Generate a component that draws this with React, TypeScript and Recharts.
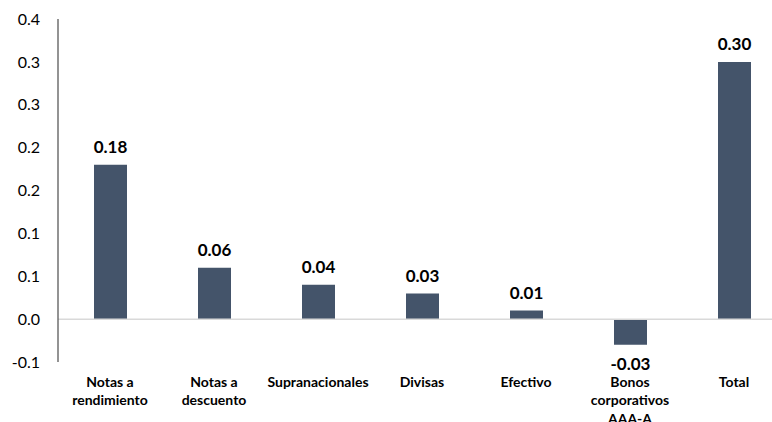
import { Bar, BarChart, Cell, LabelList, ReferenceLine, XAxis, YAxis } from 'recharts';

const BAR_COLOR = '#44546a';
const AXIS_COLOR = '#595959';
const ZERO_LINE_COLOR = '#d9d9d9';
const TEXT_COLOR = '#000000';
const FONT = 'Lato, "Liberation Sans", sans-serif';

// categorías del eje X (\n = salto de línea en la etiqueta)
const CATEGORIES = [
  'Notas a\nrendimiento',
  'Notas a\ndescuento',
  'Supranacionales',
  'Divisas',
  'Efectivo',
  'Bonos\ncorporativos\nAAA-A',
  'Total',
];
const VALUES = [0.18, 0.06, 0.04, 0.03, 0.01, -0.03, 0.3];

// el eje va de 0.05 en 0.05 pero las etiquetas se muestran con un decimal
const Y_TICKS = [-0.05, 0, 0.05, 0.1, 0.15, 0.2, 0.25, 0.3, 0.35];
const Y_TICK_LABELS = ['-0.1', '0.0', '0.1', '0.1', '0.2', '0.2', '0.3', '0.3', '0.4'];

const data = CATEGORIES.map((name, i) => ({ name, value: VALUES[i] }));

function CategoryTick({ x, y, payload }: any) {
  const lines = String(payload.value).split('\n');
  return (
    <text x={x} y={y + 25} textAnchor="middle" fontFamily={FONT} fontSize={14} fontWeight={700} fill={TEXT_COLOR}>
      {lines.map((line, i) => (
        <tspan key={i} x={x} dy={i === 0 ? 0 : 18.3}>
          {line}
        </tspan>
      ))}
    </text>
  );
}

function ValueLabel(props: any) {
  const box = props.viewBox ?? props;
  const { x, y, width, height } = box;
  const value = Number(props.value);
  const top = Math.min(y, y + height);
  const bottom = Math.max(y, y + height);
  const ty = value >= 0 ? top - 11.5 : bottom + 25;
  return (
    <text x={x + width / 2} y={ty} textAnchor="middle" fontFamily={FONT} fontSize={17} fontWeight={700} fill={TEXT_COLOR}>
      {value.toFixed(2)}
    </text>
  );
}

export default function App() {
  return (
    <div style={{ position: 'absolute', left: 0, top: 0, width: 772, height: 422, overflow: 'hidden', background: '#fff' }}>
      <BarChart width={790} height={422} data={data} margin={{ top: 19, right: 4, bottom: 0, left: 0 }} barSize={33}>
        <ReferenceLine y={0} stroke={ZERO_LINE_COLOR} strokeWidth={1.5} />
        <XAxis
          dataKey="name"
          axisLine={false}
          tickLine={false}
          tickSize={0}
          tickMargin={0}
          height={60}
          interval={0}
          tick={<CategoryTick />}
        />
        <YAxis
          type="number"
          domain={[-0.05, 0.35]}
          ticks={Y_TICKS}
          width={58}
          axisLine={{ stroke: AXIS_COLOR, strokeWidth: 1.3 }}
          tickLine={false}
          tickSize={0}
          tickMargin={18}
          tick={{ fill: TEXT_COLOR, fontSize: 16, fontFamily: FONT }}
          tickFormatter={(v: number) => Y_TICK_LABELS[Y_TICKS.indexOf(v)] ?? String(v)}
        />
        <Bar dataKey="value" isAnimationActive={false}>
          {data.map((d) => (
            <Cell key={d.name} fill={BAR_COLOR} />
          ))}
          <LabelList dataKey="value" content={<ValueLabel />} />
        </Bar>
      </BarChart>
    </div>
  );
}
